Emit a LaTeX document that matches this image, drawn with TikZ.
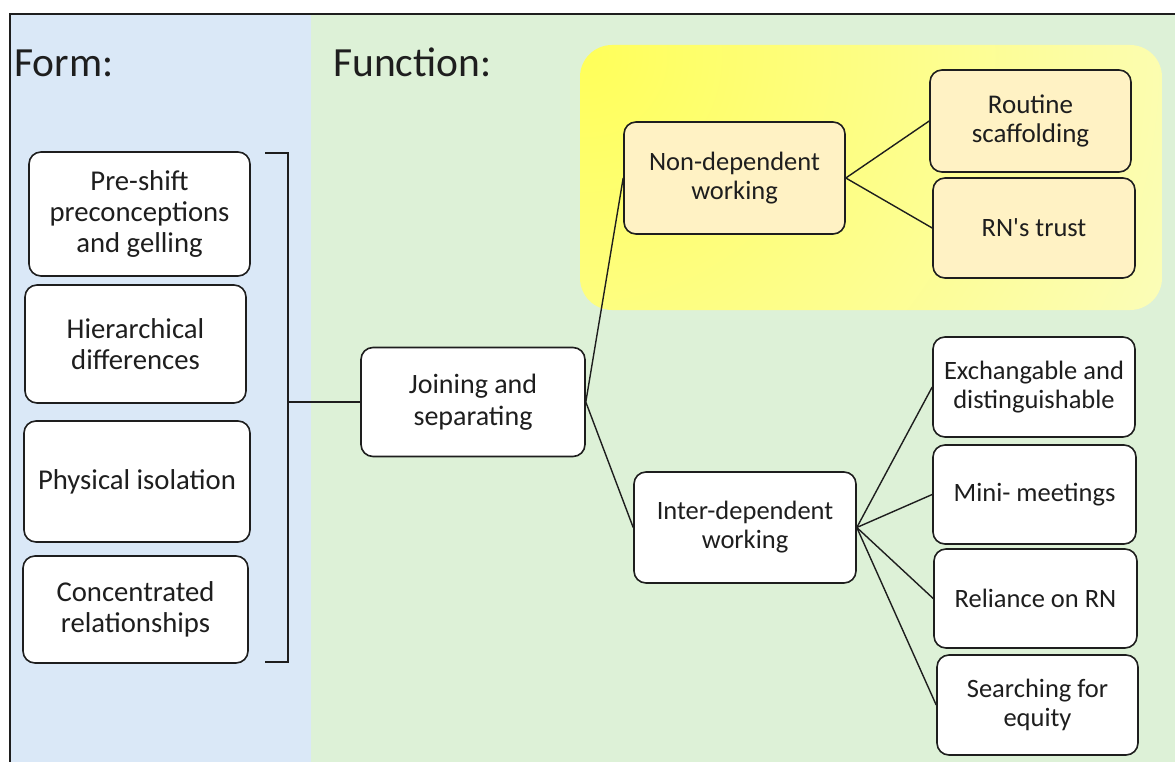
\documentclass[tikz,border=0pt]{standalone}
\usepackage{fontspec}
\setmainfont{Carlito}
\definecolor{formblue}{HTML}{DAE8F7}
\definecolor{funcgreen}{HTML}{DDF1D7}
\definecolor{glowA}{HTML}{FFFF5A}
\definecolor{glowB}{HTML}{FAFCD4}
\definecolor{boxyellow}{HTML}{FFF2C4}
\definecolor{ink}{HTML}{1E1E1E}
\begin{document}
\begin{tikzpicture}[x=1pt,y=-1pt,
  box/.style={draw=ink, line width=1.6pt, rounded corners=12pt, fill=white,
    align=center, inner sep=0pt, text=ink, font=\fontsize{26.5}{29}\selectfont},
  formbox/.style={box, font=\fontsize{28.7}{31}\selectfont},
  hibox/.style={box, fill=boxyellow},
  link/.style={draw=ink, line width=1.4pt},
  heading/.style={anchor=base west, inner sep=0pt, text=ink, font=\fontsize{41.5}{46}\selectfont}]
\useasboundingbox (0,0) rectangle (1175,762);
% panels
\fill[white] (0,0) rectangle (1175,762);
\fill[formblue] (10,14) rectangle (311,762);
\fill[funcgreen] (311,14) rectangle (1175,762);
\draw[line width=1.5pt, ink] (1175,14) -- (10,14) -- (10,762);
% highlighted area
\begin{scope}
  \clip[rounded corners=32pt] (580,45) rectangle (1162,310);
  \shade[inner color=glowA, outer color=glowB] (585,55) circle (820);
\end{scope}
% headings
\node[heading] (formT) at (14,77) {Form:};
\node[heading] (funcT) at (333,77) {Function:};
% form column
\node[formbox, minimum width=221pt, minimum height=124pt] (pre) at (139.5,214) {Pre-shift\\preconceptions\\and gelling};
\node[formbox, minimum width=221pt, minimum height=118pt] (hier) at (135.5,344) {Hierarchical\\differences};
\node[formbox, minimum width=226pt, minimum height=121pt] (phys) at (137,481.5) {Physical isolation};
\node[formbox, minimum width=225pt, minimum height=107pt] (conc) at (135.5,609.5) {Concentrated\\relationships};
% bracket
\coordinate (brA) at (265,153);
\coordinate (brTop) at (288,153);
\coordinate (brMid) at (288,402);
\coordinate (brBot) at (288,662);
\coordinate (brB) at (265,662);
\draw[link] (brA) -- (brTop) -- (brBot) -- (brB);
% function column
\node[box, font=\fontsize{28}{31.5}\selectfont, minimum width=224pt, minimum height=109pt] (join) at (473,402) {Joining and\\separating};
\node[hibox, minimum width=221pt, minimum height=112pt] (nondep) at (734.5,178) {Non-dependent\\working};
\node[box, minimum width=222pt, minimum height=111pt] (inter) at (745,527.5) {Inter-dependent\\working};
\node[hibox, font=\fontsize{27}{29}\selectfont, minimum width=201pt, minimum height=102pt] (routine) at (1030.5,121) {Routine\\scaffolding};
\node[hibox, minimum width=202pt, minimum height=100pt] (trust) at (1034,228) {RN\textquotesingle s trust};
\node[box, minimum width=202pt, minimum height=100pt] (exch) at (1034,387) {Exchangable and\\distinguishable};
\node[box, minimum width=203pt, minimum height=99pt] (mini) at (1034.5,494.5) {Mini- meetings};
\node[box, minimum width=203pt, minimum height=99pt] (reli) at (1035.5,598.5) {Reliance on RN};
\node[box, minimum width=201pt, minimum height=100pt] (search) at (1037.5,705) {Searching for\\equity};
% connectors
\draw[link] (brMid) -- (join.west);
\draw[link] (join.east) -- (nondep.west);
\draw[link] (join.east) -- (inter.west);
\draw[link] (nondep.east) -- (routine.west);
\draw[link] (nondep.east) -- (trust.west);
\draw[link] (inter.east) -- (exch.west);
\draw[link] (inter.east) -- (mini.west);
\draw[link] (inter.east) -- (reli.west);
\draw[link] (inter.east) -- (search.west);
\end{tikzpicture}
\end{document}
